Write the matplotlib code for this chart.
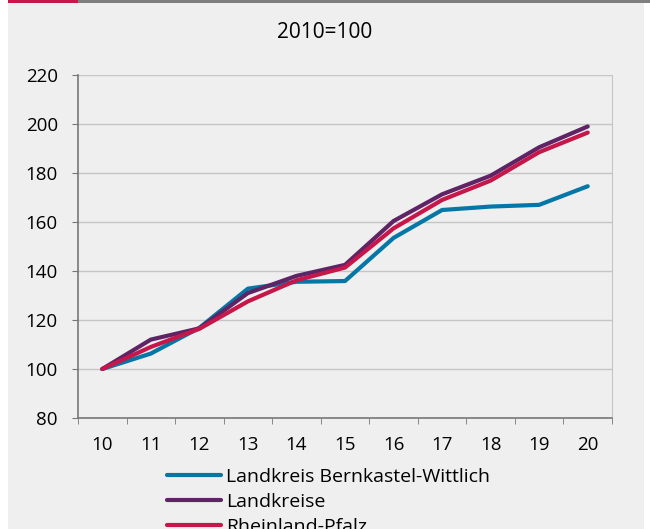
import numpy as np
import matplotlib
matplotlib.use("Agg")
import matplotlib.pyplot as plt
from matplotlib.patches import Rectangle

plt.rcParams['font.family'] = ['Open Sans', 'DejaVu Sans']

# Index 2010=100
years = [10, 11, 12, 13, 14, 15, 16, 17, 18, 19, 20]
bernkastel = [100, 106.3, 116.8, 132.8, 135.6, 135.9, 153.5, 164.9, 166.3, 167.0, 174.6]
landkreise = [100, 112.0, 116.6, 131.0, 138.0, 142.5, 160.4, 171.3, 178.9, 190.5, 199.0]
rlp = [100, 109.0, 116.4, 127.6, 136.2, 141.4, 157.4, 169.0, 176.9, 188.5, 196.5]
labels = ['Landkreis Bernkastel-Wittlich', 'Landkreise', 'Rheinland-Pfalz']
colors = ['#0477a7', '#5e2465', '#c6164a']

bg = '#eeefee'
fig = plt.figure(figsize=(6.5, 5.29), dpi=100, facecolor='white')

# panel background and top rule
fig.patches.append(Rectangle((8/650, 0), 636/650, 1 - 3/529, transform=fig.transFigure,
                             facecolor=bg, edgecolor='none', zorder=-3))
fig.patches.append(Rectangle((8/650, 1 - 3/529), 642/650, 3/529, transform=fig.transFigure,
                             facecolor='#7f7f7f', edgecolor='none', zorder=-2))
fig.patches.append(Rectangle((8/650, 1 - 3/529), 70/650, 3/529, transform=fig.transFigure,
                             facecolor='#c6164a', edgecolor='none', zorder=-1))

ax = fig.add_axes([78/650, 1 - 418/529, 534/650, 343/529])
ax.set_zorder(2)
ax.set_facecolor(bg)

for vals, lab, c in zip([bernkastel, landkreise, rlp], labels, colors):
    ax.plot(years, vals, color=c, lw=3, label=lab, solid_capstyle='round', zorder=3)

ax.set_xlim(9.5, 20.5)
ax.set_ylim(80, 220)
ax.set_yticks(np.arange(80, 221, 20))
ax.set_xticks(years)
ax.set_xticks(np.arange(9.5, 20.6, 1), minor=True)
ax.grid(axis='y', color='#c5c5c5', lw=1)
ax.set_axisbelow(True)

ax.spines['top'].set_visible(False)
ax.spines['left'].set_color('#777777')
ax.spines['left'].set_linewidth(1.2)
ax.spines['bottom'].set_color('#777777')
ax.spines['bottom'].set_linewidth(1.2)
ax.spines['right'].set_color('#c5c5c5')

ax.tick_params(axis='y', direction='out', length=4.5, color='#777777', pad=10, labelsize=13.5)
ax.tick_params(axis='x', which='major', length=0, pad=13, labelsize=13.5)
ax.tick_params(axis='x', which='minor', direction='out', length=4.5, color='#777777')

fig.text(0.5, 1 - 33/529, '2010=100', ha='center', va='center', fontsize=15)

fig.legend(loc='upper left', bbox_to_anchor=(167/650, 1 - 468/529), frameon=False,
           fontsize=14, handlelength=2.8, handletextpad=0.25, labelspacing=0.35,
           borderaxespad=0, borderpad=0)

fig.savefig('out.png', dpi=100, facecolor=fig.get_facecolor())
